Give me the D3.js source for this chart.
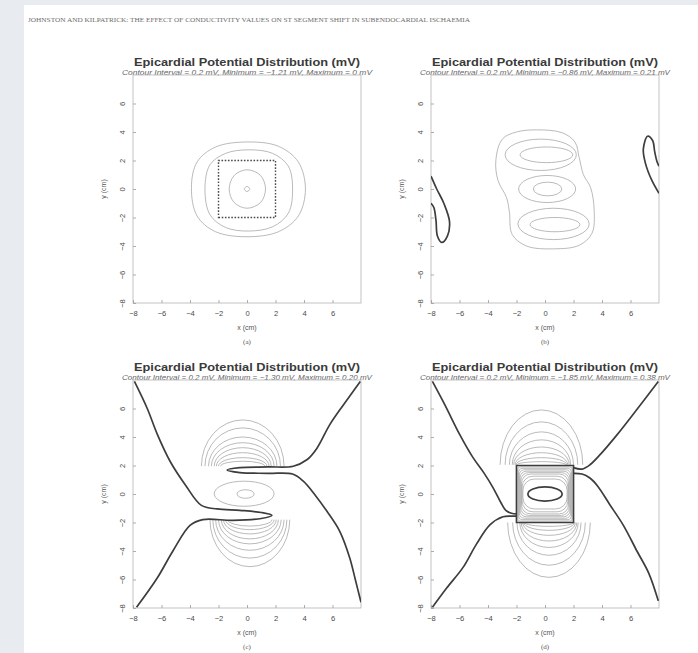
<!DOCTYPE html>
<html>
<head>
<meta charset="utf-8">
<script src="https://cdn.jsdelivr.net/npm/d3@7"></script>
<style>
  html, body { margin: 0; padding: 0; background: #e8ebef; }
  svg { display: block; }
</style>
</head>
<body>
<svg id="fig" width="698" height="653"></svg>
<script>
// ---------- text ----------
const runningHead = "JOHNSTON AND KILPATRICK: THE EFFECT OF CONDUCTIVITY VALUES ON ST SEGMENT SHIFT IN SUBENDOCARDIAL ISCHAEMIA";
const titleText = "Epicardial Potential Distribution (mV)";
const subtitles = [
  "Contour Interval = 0.2 mV, Minimum = \u22121.21 mV, Maximum = 0 mV",
  "Contour Interval = 0.2 mV, Minimum = \u22120.86 mV, Maximum = 0.21 mV",
  "Contour Interval = 0.2 mV, Minimum = \u22121.30 mV, Maximum = 0.20 mV",
  "Contour Interval = 0.2 mV, Minimum = \u22121.85 mV, Maximum = 0.38 mV"
];
const panelTags = ["(a)", "(b)", "(c)", "(d)"];
const xLabel = "x (cm)";
const yLabel = "y (cm)";

// ---------- axes ----------
const axisDomain = [-8, 8];
const xTicks = [-8, -6, -4, -2, 0, 2, 4, 6];
const yTicks = [-8, -6, -4, -2, 0, 2, 4, 6];

// ---------- panel (a): contour lines in cm ----------
const aRings = [
  [[-3.9,0.1],[-3.5,1.9],[-2.2,2.95],[0,3.3],[2.2,3.0],[3.6,1.9],[4.1,0],[3.6,-1.9],[2.2,-3.0],[0,-3.35],[-2.2,-3.0],[-3.5,-1.9]],
  [[-2.95,0],[-2.6,1.7],[-1.5,2.5],[0.1,2.75],[1.8,2.5],[2.9,1.6],[3.2,0],[2.9,-1.7],[1.8,-2.65],[0.1,-2.95],[-1.5,-2.7],[-2.6,-1.8]],
  [[-1.25,0],[-0.9,0.95],[0,1.35],[0.95,0.95],[1.3,0],[0.95,-0.95],[0,-1.35],[-0.9,-0.95]],
  [[-0.2,0],[0,0.18],[0.2,0],[0,-0.18]]
];
const aRegion = [[-2,-2],[2,-2],[2,2],[-2,2]];

// ---------- panel (b) ----------
const bOuter = [[-0.6,4.15],[1.2,3.95],[2.1,3.3],[2.4,2.2],[2.7,1.0],[3.2,0.1],[3.45,-1.5],[3.3,-3.1],[2.4,-3.95],[0.6,-4.2],[-1.3,-4.0],[-2.3,-3.2],[-2.5,-1.6],[-2.7,-0.6],[-3.3,0.6],[-3.45,2.0],[-3.0,3.5],[-2.0,4.0]];
const bRings = [
  {cx: -0.3, cy: 2.4, rx: 2.5, ry: 1.1},
  {cx: 0.15, cy: 0.0, rx: 2.0, ry: 0.95},
  {cx: 0.6, cy: -2.45, rx: 2.5, ry: 1.1}
];
const bCores = [
  {cx: 0.1, cy: 2.4, rx: 1.85, ry: 0.55},
  {cx: 0.18, cy: 0.0, rx: 1.0, ry: 0.48},
  {cx: 0.7, cy: -2.5, rx: 1.75, ry: 0.5}
];
const bZero = [
  [[-8,0.9],[-7.6,0.0],[-7.1,-1.0],[-6.7,-2.3],[-6.85,-3.3],[-7.25,-3.75],[-7.55,-3.3],[-7.65,-2.2],[-7.8,-1.3],[-8,-1.0]],
  [[8,-0.3],[7.5,0.6],[7.05,1.8],[6.9,2.8],[7.2,3.7],[7.55,3.4],[7.7,2.6],[7.85,1.95],[8,1.6]]
];

// ---------- panel (c) ----------
const cZero = [
  [[-7.9,7.9],[-7.0,6.0],[-6.3,4.2],[-5.4,2.3],[-4.3,0.6],[-3.2,-0.8],[-2.1,-1.05],[-0.5,-1.15],[1.0,-1.3],[1.75,-1.5],[1.0,-1.72],[-1.0,-1.85],[-3.1,-1.8],[-4.0,-2.2],[-5.2,-4.0],[-6.3,-5.9],[-7.75,-7.95]],
  [[7.95,7.9],[6.8,6.3],[5.8,4.85],[4.9,3.2],[4.2,2.4],[3.25,1.95],[1.5,1.9],[-0.5,1.85],[-1.4,1.68],[-0.5,1.5],[1.5,1.45],[3.2,1.4],[3.95,0.9],[4.8,-0.1],[5.6,-1.2],[6.5,-2.6],[7.2,-4.45],[7.6,-6.0],[8.0,-7.6]]
];
const cDomesUp = [
  {cx: -0.3, base: 1.95, rx: 2.9, peak: 5.2},
  {cx: -0.3, base: 1.95, rx: 2.65, peak: 4.64},
  {cx: -0.3, base: 1.95, rx: 2.4, peak: 4.0},
  {cx: -0.3, base: 1.95, rx: 2.2, peak: 3.6},
  {cx: -0.3, base: 1.95, rx: 2.0, peak: 3.25},
  {cx: -0.3, base: 1.95, rx: 1.85, peak: 2.9},
  {cx: -0.3, base: 1.95, rx: 1.7, peak: 2.55},
  {cx: -0.3, base: 1.95, rx: 1.55, peak: 2.3}
];
const cDomesDown = [
  {cx: 0.2, base: -1.8, rx: 2.8, peak: -5.1},
  {cx: 0.2, base: -1.8, rx: 2.6, peak: -4.5},
  {cx: 0.2, base: -1.8, rx: 2.4, peak: -3.95},
  {cx: 0.2, base: -1.8, rx: 2.2, peak: -3.5},
  {cx: 0.2, base: -1.8, rx: 2.0, peak: -3.15},
  {cx: 0.2, base: -1.8, rx: 1.85, peak: -2.8},
  {cx: 0.2, base: -1.8, rx: 1.7, peak: -2.5},
  {cx: 0.2, base: -1.8, rx: 1.55, peak: -2.25}
];
const cCentre = [
  {cx: -0.1, cy: 0.0, rx: 0.6, ry: 0.3},
  {cx: -0.2, cy: 0.02, rx: 2.1, ry: 0.88}
];

// ---------- panel (d) ----------
const dRegion = [[-2,-2],[2,-2],[2,2],[-2,2]];
const dCore = {cx: 0.0, cy: 0.0, rx: 1.2, ry: 0.5};
const dZero = [
  [[-7.9,7.9],[-7.0,6.2],[-6.0,4.2],[-5.05,2.55],[-4.3,1.5],[-3.65,0.45],[-3.1,-0.6],[-2.75,-1.15],[-2.35,-1.35],[-2.0,-1.4]],
  [[-7.9,-7.95],[-6.9,-6.6],[-5.75,-5.15],[-4.8,-3.5],[-3.85,-2.15],[-2.95,-1.6],[-2.35,-1.55],[-2.0,-1.55]],
  [[7.95,7.9],[6.5,6.0],[5.05,4.15],[3.9,2.8],[3.15,2.05],[2.6,1.75],[2.0,1.85]],
  [[7.95,-7.5],[7.3,-5.6],[6.45,-4.0],[5.5,-2.2],[4.55,-0.75],[3.7,0.55],[3.15,1.12],[2.6,1.4],[2.0,1.45]]
];
const dDomesUp = [
  {cx: -0.25, base: 2.05, rx: 2.9, peak: 5.9},
  {cx: -0.25, base: 2.05, rx: 2.55, peak: 5.06},
  {cx: -0.25, base: 2.05, rx: 2.25, peak: 4.36},
  {cx: -0.25, base: 2.05, rx: 2.05, peak: 3.8},
  {cx: -0.25, base: 2.05, rx: 1.95, peak: 3.3},
  {cx: -0.25, base: 2.05, rx: 1.85, peak: 2.9},
  {cx: -0.25, base: 2.05, rx: 1.78, peak: 2.55},
  {cx: -0.25, base: 2.05, rx: 1.72, peak: 2.27}
];
const dDomesDown = [
  {cx: 0.28, base: -2.0, rx: 2.9, peak: -5.85},
  {cx: 0.28, base: -2.0, rx: 2.55, peak: -5.0},
  {cx: 0.28, base: -2.0, rx: 2.25, peak: -4.3},
  {cx: 0.28, base: -2.0, rx: 2.05, peak: -3.75},
  {cx: 0.28, base: -2.0, rx: 1.95, peak: -3.3},
  {cx: 0.28, base: -2.0, rx: 1.85, peak: -2.9},
  {cx: 0.28, base: -2.0, rx: 1.78, peak: -2.55},
  {cx: 0.28, base: -2.0, rx: 1.72, peak: -2.27}
];
// nested plateau contours inside the ischaemic square: half-width, half-height, corner radius (cm)
const dPlateau = [
  {hw: 1.9, hh: 1.9, r: 0.15},
  {hw: 1.85, hh: 1.8, r: 0.25},
  {hw: 1.8, hh: 1.7, r: 0.35},
  {hw: 1.75, hh: 1.6, r: 0.45},
  {hw: 1.7, hh: 1.5, r: 0.55},
  {hw: 1.65, hh: 1.4, r: 0.65},
  {hw: 1.6, hh: 1.25, r: 0.75},
  {hw: 1.55, hh: 1.05, r: 0.8}
];

// ---------- drawing ----------
const svg = d3.select("#fig");
svg.append("rect").attr("x", 24).attr("y", 5).attr("width", 674).attr("height", 648).attr("fill", "#ffffff");

svg.append("text")
  .attr("x", 28).attr("y", 22)
  .attr("font-family", "Liberation Serif, serif")
  .attr("font-size", 6.2)
  .attr("fill", "#6b6b6b")
  .attr("textLength", 442).attr("lengthAdjust", "spacingAndGlyphs")
  .text(runningHead);

const SIZE = 228;
const boxes = [{x: 133, y: 75}, {x: 431, y: 75}, {x: 133, y: 380}, {x: 431, y: 380}];

const THIN = {stroke: "#a3a3a3", width: 0.75};
const THICK = {stroke: "#3d3d3d", width: 1.7};

function panel(i, draw) {
  const b = boxes[i];
  const x = d3.scaleLinear().domain(axisDomain).range([b.x, b.x + SIZE]);
  const y = d3.scaleLinear().domain(axisDomain).range([b.y + SIZE, b.y]);
  const g = svg.append("g");

  // title block
  g.append("text")
    .attr("x", b.x + SIZE / 2).attr("y", b.y - 9)
    .attr("text-anchor", "middle")
    .attr("font-family", "Liberation Sans, Arial, sans-serif")
    .attr("font-weight", "bold").attr("font-size", 10.5)
    .attr("fill", "#3a3a3a")
    .attr("textLength", 226).attr("lengthAdjust", "spacingAndGlyphs")
    .text(titleText);
  g.append("text")
    .attr("x", b.x + SIZE / 2).attr("y", b.y - 0.5)
    .attr("text-anchor", "middle")
    .attr("font-family", "Liberation Sans, Arial, sans-serif")
    .attr("font-style", "italic").attr("font-size", 6.8)
    .attr("fill", "#666")
    .attr("textLength", 250).attr("lengthAdjust", "spacingAndGlyphs")
    .text(subtitles[i]);

  // frame
  g.append("rect")
    .attr("x", b.x).attr("y", b.y).attr("width", SIZE).attr("height", SIZE)
    .attr("fill", "none").attr("stroke", "#b5b5b5").attr("stroke-width", 0.8);

  // axes
  const ax = g.append("g").attr("transform", `translate(0,${b.y + SIZE})`)
    .call(d3.axisBottom(x).tickValues(xTicks).tickSize(-3).tickPadding(8).tickFormat(d3.format("d")));
  const ay = g.append("g").attr("transform", `translate(${b.x},0)`)
    .call(d3.axisLeft(y).tickValues(yTicks).tickSize(-3).tickFormat(d3.format("d")));
  [ax, ay].forEach(a => {
    a.select(".domain").remove();
    a.selectAll("line").attr("stroke", "#9a9a9a").attr("stroke-width", 0.8);
    a.selectAll("text").attr("font-family", "Liberation Sans, Arial, sans-serif")
      .attr("font-size", 7.6).attr("fill", "#4a4a4a");
  });
  ay.selectAll("text")
    .attr("x", null).attr("dy", "0.35em").attr("text-anchor", "middle")
    .attr("transform", "translate(-11,0) rotate(-90)");

  g.append("text")
    .attr("x", b.x + SIZE / 2).attr("y", b.y + SIZE + 27)
    .attr("text-anchor", "middle")
    .attr("font-family", "Liberation Sans, Arial, sans-serif")
    .attr("font-size", 7).attr("fill", "#555").text(xLabel);
  g.append("text")
    .attr("x", b.x + SIZE / 2).attr("y", b.y + SIZE + 41)
    .attr("text-anchor", "middle")
    .attr("font-family", "Liberation Serif, serif")
    .attr("font-size", 7).attr("fill", "#555").text(panelTags[i]);
  g.append("text")
    .attr("transform", `translate(${b.x - 27},${b.y + SIZE / 2}) rotate(-90)`)
    .attr("text-anchor", "middle")
    .attr("font-family", "Liberation Sans, Arial, sans-serif")
    .attr("font-size", 7).attr("fill", "#555").text(yLabel);

  // plot contents, clipped to the frame
  const clipId = "clip" + i;
  g.append("clipPath").attr("id", clipId).append("rect")
    .attr("x", b.x).attr("y", b.y).attr("width", SIZE).attr("height", SIZE);
  const plot = g.append("g").attr("clip-path", `url(#${clipId})`).attr("fill", "none");

  const closed = d3.line().x(d => x(d[0])).y(d => y(d[1])).curve(d3.curveCatmullRomClosed.alpha(0.5));
  const open = d3.line().x(d => x(d[0])).y(d => y(d[1])).curve(d3.curveCatmullRom.alpha(0.5));
  const poly = d3.line().x(d => x(d[0])).y(d => y(d[1])).curve(d3.curveLinearClosed);

  const style = (sel, s) => sel.attr("stroke", s.stroke).attr("stroke-width", s.width).attr("fill", "none");
  const ellipses = (data, s) => style(plot.selectAll(null).data(data).join("ellipse")
      .attr("cx", d => x(d.cx)).attr("cy", d => y(d.cy))
      .attr("rx", d => x(d.rx) - x(0)).attr("ry", d => y(0) - y(d.ry)), s);
  const domes = (data, s) => style(plot.selectAll(null).data(data).join("path")
      .attr("d", d => {
        const rxp = x(d.rx) - x(0), ryp = Math.abs(y(d.peak) - y(d.base));
        const sweep = d.peak > d.base ? 1 : 0;
        return `M${x(d.cx - d.rx)},${y(d.base)} A${rxp},${ryp} 0 0 ${sweep} ${x(d.cx + d.rx)},${y(d.base)}`;
      }), s);

  draw({plot, x, y, closed, open, poly, style, ellipses, domes});
}

// (a)
panel(0, ({plot, closed, poly, style}) => {
  style(plot.selectAll(null).data(aRings).join("path").attr("d", closed), THIN);
  plot.append("path").attr("d", poly(aRegion))
    .attr("stroke", "#4a4a4a").attr("stroke-width", 1.4).attr("stroke-dasharray", "1.6,1.6");
});

// (b)
panel(1, ({plot, closed, open, style, ellipses}) => {
  style(plot.append("path").attr("d", closed(bOuter)), THIN);
  ellipses(bRings, THIN);
  ellipses(bCores, THIN);
  style(plot.selectAll(null).data(bZero).join("path").attr("d", open), THICK);
});

// (c)
panel(2, ({plot, open, style, ellipses, domes}) => {
  domes(cDomesUp, THIN);
  domes(cDomesDown, THIN);
  ellipses(cCentre, THIN);
  style(plot.selectAll(null).data(cZero).join("path").attr("d", open), THICK);
});

// (d)
panel(3, ({plot, x, y, open, poly, style, ellipses, domes}) => {
  domes(dDomesUp, THIN);
  domes(dDomesDown, THIN);
  style(plot.selectAll(null).data(dPlateau).join("rect")
    .attr("x", d => x(-d.hw)).attr("y", d => y(d.hh))
    .attr("width", d => x(d.hw) - x(-d.hw)).attr("height", d => y(-d.hh) - y(d.hh))
    .attr("rx", d => x(d.r) - x(0)), THIN);
  style(plot.append("path").attr("d", poly(dRegion)), THICK);
  ellipses([dCore], THICK);
  style(plot.selectAll(null).data(dZero).join("path").attr("d", open), THICK);
});
</script>
</body>
</html>
